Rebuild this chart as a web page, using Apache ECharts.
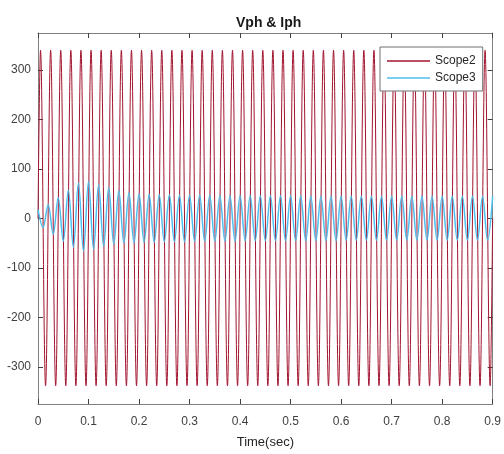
<!DOCTYPE html>
<html>
<head>
<meta charset="utf-8">
<script src="https://cdn.jsdelivr.net/npm/echarts@6/dist/echarts.min.js"></script>
<style>
html,body{margin:0;padding:0;background:#fff;}
#chart{width:504px;height:454px;}
</style>
</head>
<body>
<div id="chart"></div>
<script>
// Scope2 (Vph): times of the zero start, each half-cycle extreme, and the end
const vphTimes = [0,0.005,0.015,0.025,0.035,0.045,0.055,0.065,0.075,0.085,0.095,
  0.105,0.115,0.125,0.135,0.145,0.155,0.165,0.175,0.185,0.195,
  0.205,0.215,0.225,0.235,0.245,0.255,0.265,0.275,0.285,0.295,
  0.305,0.315,0.325,0.335,0.345,0.355,0.365,0.375,0.385,0.395,
  0.405,0.415,0.425,0.435,0.445,0.455,0.465,0.475,0.485,0.495,
  0.505,0.515,0.525,0.535,0.545,0.555,0.565,0.575,0.585,0.595,
  0.605,0.615,0.625,0.635,0.645,0.655,0.665,0.675,0.685,0.695,
  0.705,0.715,0.725,0.735,0.745,0.755,0.765,0.775,0.785,0.795,
  0.805,0.815,0.825,0.835,0.845,0.855,0.865,0.875,0.885,0.895,0.9];
const vphValues = [0,
  340,-338,340,-338,340,-338,340,-338,340,-338,
  340,-338,340,-338,340,-338,340,-338,340,-338,
  340,-338,340,-338,340,-338,340,-338,340,-338,
  340,-338,340,-338,340,-338,340,-338,340,-338,
  340,-338,340,-338,340,-338,340,-338,340,-338,
  340,-338,340,-338,340,-338,340,-338,340,-338,
  340,-338,340,-338,340,-338,340,-338,340,-338,
  340,-338,340,-338,340,-338,340,-338,340,-338,
  340,-338,340,-338,340,-338,340,-338,340,-338,
  0];

// Scope3 (Iph): times of each half-cycle extreme
const iphTimes = [0,0.01,0.02,0.03,0.04,0.05,0.06,0.07,0.08,0.09,
  0.1,0.11,0.12,0.13,0.14,0.15,0.16,0.17,0.18,0.19,
  0.2,0.21,0.22,0.23,0.24,0.25,0.26,0.27,0.28,0.29,
  0.3,0.31,0.32,0.33,0.34,0.35,0.36,0.37,0.38,0.39,
  0.4,0.41,0.42,0.43,0.44,0.45,0.46,0.47,0.48,0.49,
  0.5,0.51,0.52,0.53,0.54,0.55,0.56,0.57,0.58,0.59,
  0.6,0.61,0.62,0.63,0.64,0.65,0.66,0.67,0.68,0.69,
  0.7,0.71,0.72,0.73,0.74,0.75,0.76,0.77,0.78,0.79,
  0.8,0.81,0.82,0.83,0.84,0.85,0.86,0.87,0.88,0.89,0.9];
const iphValues = [18,-18,28,-32,42,-46,57,-58,72,-66,
  75,-62,68,-56,62,-52,56,-50,52,-49,
  50,-48,49,-48,48,-47,48,-47,47,-47,
  47,-46,47,-46,47,-46,46,-46,46,-46,
  46,-45,46,-45,46,-45,46,-45,46,-45,
  46,-45,46,-45,45,-45,45,-45,45,-45,
  45,-44,45,-44,45,-44,45,-44,45,-44,
  45,-44,45,-44,45,-44,45,-44,45,-44,
  45,-44,45,-44,45,-44,45,-44,45,-44,45];

const seriesNames = ['Scope2','Scope3'];
const yTickValues = [-300,-200,-100,0,100,200,300];
const titleText = 'Vph & Iph';
const xAxisTitle = 'Time(sec)';

const vphData = vphTimes.map((t,i)=>[t, vphValues[i]]);
const iphData = iphTimes.map((t,i)=>[t, iphValues[i]]);

const FONT = 'Liberation Sans, Arial, Helvetica, sans-serif';
const axisCol = '#808080';

const chart = echarts.init(document.getElementById('chart'), null, {renderer:'canvas'});
const xBase = {
  type:'value', min:0, max:0.9, interval:0.1,
  splitLine:{show:false},
  axisLine:{show:true, onZero:false, lineStyle:{color:axisCol, width:1}},
  axisTick:{show:true, inside:true, length:5, lineStyle:{color:'#404040'}}
};
const yBase = {
  type:'value', min:-375, max:375,
  splitLine:{show:false},
  axisLine:{show:true, onZero:false, lineStyle:{color:axisCol, width:1}},
  axisTick:{show:true, inside:true, length:5, customValues:yTickValues, lineStyle:{color:'#404040'}}
};
chart.setOption({
  animation:false,
  backgroundColor:'#fff',
  title:{
    text:titleText, left:231, top:11,
    textStyle:{fontFamily:FONT, fontSize:14, fontWeight:'bold', color:'#1a1a1a'}
  },
  grid:{left:38, right:9, top:33, bottom:44, containLabel:false},
  legend:{
    data:seriesNames, orient:'vertical', left:380, top:47,
    icon:'rect', itemWidth:43, itemHeight:1.5, itemGap:3,
    padding:[7,7,6,7],
    backgroundColor:'#fff', borderColor:'#707070', borderWidth:1,
    textStyle:{fontFamily:FONT, fontSize:12, color:'#262626', lineHeight:14, padding:[0,0,0,0]}
  },
  xAxis:[
    Object.assign({}, xBase, {
      position:'bottom',
      axisLabel:{show:true, fontFamily:FONT, fontSize:12, color:'#404040', margin:12},
      name:xAxisTitle, nameLocation:'middle', nameGap:32,
      nameTextStyle:{fontFamily:FONT, fontSize:13, color:'#262626'}
    }),
    Object.assign({}, xBase, {position:'top', axisLabel:{show:false}})
  ],
  yAxis:[
    Object.assign({}, yBase, {
      position:'left',
      axisLabel:{show:true, customValues:yTickValues, fontFamily:FONT, fontSize:12, color:'#404040', margin:7}
    }),
    Object.assign({}, yBase, {position:'right', axisLabel:{show:false}})
  ],
  series:[
    {
      name:seriesNames[0], type:'line', xAxisIndex:0, yAxisIndex:0,
      data:vphData, showSymbol:false, symbol:'none', smooth:0.36,
      color:'#a2142f', lineStyle:{color:'#a2142f', width:1}, clip:true, z:2
    },
    {
      name:seriesNames[1], type:'line', xAxisIndex:0, yAxisIndex:0,
      data:iphData, showSymbol:false, symbol:'none', smooth:0.36,
      color:'#4dbeee', lineStyle:{color:'#4dbeee', width:1.5}, clip:true, z:3
    }
  ]
});
</script>
</body>
</html>
